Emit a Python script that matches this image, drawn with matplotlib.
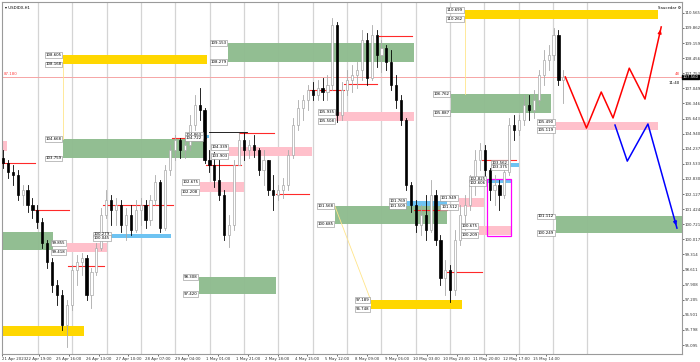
import numpy as np
import matplotlib
matplotlib.use("Agg")
import matplotlib.pyplot as plt
import matplotlib.transforms as mtransforms
from matplotlib.patches import Rectangle

SYMBOL = "\u25be USDIDX,H1"
CORNER = "Saucedar \u2699"

COL_BULL = "#a9a9a9"
COL_BEAR = "#000000"
COL_YELLOW = "#ffd700"
COL_GREEN = "#8fbc8f"
COL_PINK = "#ffc0cb"
COL_BLUE = "#6ec3f2"
COL_RED = "#ff2a2a"
COL_GRID = "#d4d4d4"

# 3h candles
OPEN0 = 103.80
close = [103.57, 103.15, 103.01, 102.08, 102.32, 101.62, 101.38, 100.82, 99.85, 98.96,
         97.89, 97.42, 96.03, 96.96, 98.59, 98.96, 99.15, 97.42, 98.50, 99.61,
         101.15, 101.85, 101.38, 101.62, 100.68, 101.15, 100.45, 101.38, 101.62, 100.92,
         101.85, 102.69, 100.54, 103.25, 104.18, 104.64, 104.18, 104.41, 105.34, 106.27,
         106.04, 103.71, 103.48, 102.78, 102.08, 100.22, 100.68, 103.48, 104.64, 104.18,
         104.41, 104.18, 103.25, 103.71, 102.32, 102.08, 102.32, 102.55, 103.94, 105.34,
         106.13, 106.51, 106.97, 106.74, 107.07, 106.88, 107.21, 110.00, 105.81, 106.97,
         107.44, 107.67, 107.90, 109.30, 107.53, 109.54, 108.60, 108.93, 108.28, 107.21,
         106.51, 105.58, 102.55, 101.62, 100.68, 101.15, 100.45, 102.08, 99.99, 98.22,
         98.59, 97.66, 99.99, 101.15, 101.62, 102.55, 103.71, 104.18, 103.25, 102.32,
         102.55, 102.08, 103.15, 105.34, 105.11, 105.58, 106.27, 106.04, 106.51, 107.67,
         108.37, 108.60, 109.54, 107.44, 107.58]
high = [104.18, 103.71, 103.48, 103.25, 102.55, 102.55, 101.94, 101.62, 101.01, 99.99,
        99.15, 98.12, 97.66, 97.19, 98.82, 99.29, 99.38, 99.29, 98.68, 99.85,
        101.48, 102.32, 102.08, 101.94, 101.85, 101.48, 101.62, 101.85, 101.94, 101.85,
        102.08, 103.01, 102.78, 103.48, 104.41, 104.88, 104.74, 104.64, 105.81, 106.74,
        107.07, 106.13, 104.18, 104.08, 103.71, 102.32, 101.15, 103.71, 104.97, 104.97,
        104.64, 104.88, 104.27, 104.18, 103.71, 103.01, 102.55, 102.87, 104.18, 105.67,
        106.51, 106.74, 107.21, 107.35, 107.44, 107.53, 107.67, 110.33, 110.14, 107.35,
        107.90, 108.14, 108.28, 109.77, 109.63, 110.00, 109.77, 109.30, 109.07, 108.84,
        107.67, 106.74, 105.67, 102.69, 101.85, 101.62, 102.08, 102.78, 102.32, 100.22,
        99.05, 98.82, 100.45, 101.62, 102.08, 103.01, 104.18, 104.50, 104.41, 103.34,
        103.01, 102.78, 103.48, 105.67, 105.81, 105.81, 106.74, 106.74, 106.97, 107.90,
        108.84, 109.07, 109.86, 109.77, 107.90]
low = [103.34, 102.87, 102.55, 101.85, 101.62, 101.29, 101.01, 100.54, 99.61, 98.68,
       97.56, 96.96, 95.79, 95.00, 96.73, 97.89, 98.36, 97.19, 96.82, 98.36,
       99.52, 101.01, 100.68, 100.68, 100.36, 99.99, 100.22, 100.36, 100.68, 100.54,
       100.68, 101.62, 100.36, 100.45, 103.01, 103.71, 103.80, 103.80, 104.18, 105.11,
       105.58, 103.57, 103.15, 102.46, 101.85, 99.99, 99.66, 100.45, 103.48, 103.71,
       103.80, 103.85, 103.01, 102.55, 102.08, 101.38, 101.85, 101.94, 102.32, 103.80,
       105.11, 105.58, 106.04, 106.51, 106.51, 106.51, 106.51, 106.97, 105.48, 105.58,
       106.74, 106.88, 107.07, 107.44, 107.21, 107.44, 108.04, 107.81, 107.90, 106.97,
       106.13, 105.34, 102.32, 101.29, 100.36, 100.22, 99.99, 100.36, 99.75, 97.89,
       97.42, 97.10, 97.42, 99.75, 100.45, 101.38, 102.08, 103.25, 102.87, 101.85,
       101.62, 101.38, 101.94, 103.01, 104.64, 104.88, 105.34, 105.58, 105.67, 106.27,
       107.21, 107.90, 108.37, 107.21, 106.37]

# zones: (x start, x end, top, bottom, top label, bottom label)
yellow_zones = [(12.2, 41.6, 108.60, 108.18, "108.605", "108.168"),
                (93.9, 133.3, 110.70, 110.28, "110.699", "110.262"),
                (74.8, 93.3, 97.19, 96.77, "97.189", "96.748"),
                (-5.0, 16.4, 95.98, 95.52, None, None)]
green_zones = [(45.8, 83.6, 109.16, 108.28, "109.153", "108.279"),
               (91.1, 111.4, 106.79, 105.90, "106.762", "105.887"),
               (12.2, 41.4, 104.69, 103.80, "104.668", "103.759"),
               (-5.0, 10.1, 100.36, 99.52, None, None),
               (39.8, 55.6, 98.26, 97.47, "98.308", "97.420"),
               (67.5, 90.3, 101.57, 100.73, "101.568", "100.685"),
               (112.4, 140.0, 101.10, 100.31, "101.112", "100.249")]
pink_zones = [(-5.0, 0.8, 104.60, 104.13, None, None),
              (40.0, 49.1, 102.69, 102.22, "102.675", "102.208"),
              (46.0, 62.9, 104.32, 103.90, "104.339", "103.903"),
              (67.7, 83.6, 105.95, 105.53, "105.935", "105.508"),
              (92.7, 97.8, 101.94, 101.52, "101.949", "101.512"),
              (96.8, 103.4, 100.64, 100.22, "100.675", "100.209"),
              (112.4, 133.3, 105.48, 105.11, "105.490", "105.119"),
              (13.0, 21.1, 99.85, 99.43, "99.855", "99.418")]
blue_zones = [(22.1, 34.1, 100.26, 100.08, "100.279", "100.045"),
              (40.8, 42.0, 104.88, 104.74, "104.863", "104.722"),
              (82.2, 90.3, 101.80, 101.57, "101.769", "101.509"),
              (98.4, 103.4, 102.83, 102.64, "102.825", "102.606"),
              (103.0, 104.9, 103.57, 103.39, "103.562", "103.375")]

# red horizontal levels: (x start, x end, price)
red_levels = [(-5.0, 6.5, 103.57), (6.5, 13.4, 101.38), (13.2, 20.5, 98.77),
              (20.3, 34.5, 101.62), (34.3, 41.4, 104.74), (41.4, 48.5, 103.48),
              (48.1, 55.2, 104.97), (55.6, 62.3, 102.11), (62.3, 69.4, 106.97),
              (69.4, 76.1, 107.25), (76.5, 83.2, 109.49), (83.6, 90.3, 101.38),
              (90.3, 97.4, 98.50), (97.4, 104.3, 103.71)]

# projected paths
red_path_x = [114.4, 118.7, 121.7, 124.1, 127.4, 130.6, 133.9]
red_path_y = [107.58, 105.20, 106.88, 105.67, 107.99, 106.55, 109.91]
blue_path_x = [124.5, 127.0, 131.2, 137.1]
blue_path_y = [105.34, 103.66, 105.39, 100.54]

magenta_box = (98.4, 103.4, 102.83, 100.17)
current_price = 107.58
current_label = "107.560"

price_labels = ["95.095", "95.798", "96.501", "97.205", "97.908", "98.611", "99.314",
                "100.017", "100.721", "101.424", "102.127", "102.830", "103.533",
                "104.237", "104.940", "105.643", "106.346", "107.049", "107.753",
                "108.456", "109.159", "109.862", "110.565"]
date_labels = ["22 Apr 19:00", "25 Apr 16:00", "26 Apr 13:00", "27 Apr 10:00",
               "28 Apr 07:00", "29 Apr 04:00", "1 May 01:00", "1 May 21:00",
               "2 May 18:00", "4 May 15:00", "5 May 12:00", "8 May 09:00",
               "9 May 06:00", "10 May 03:00", "10 May 23:00", "11 May 20:00",
               "12 May 17:00", "15 May 14:00"]
first_date = "21 Apr 2023"

FS_AX = 2.8

fig = plt.figure(figsize=(7.0, 3.62), dpi=100)
ax = fig.add_axes([2 / 700, 8 / 362, 680 / 700, 352 / 362])
ax.set_xlim(-0.2, 138.13)
ax.set_ylim(94.676, 111.072)
for s in ax.spines.values():
    s.set_color("#9a9a9a")
    s.set_linewidth(0.8)

# vertical grid
for k in range(17):
    ax.axvline(7.16 + 6.98 * k, color=COL_GRID, lw=0.9, zorder=0)

# current price line
ax.axhline(current_price, color="#f6a5a5", lw=0.7, zorder=1)


def draw_zones(zones, color, alpha=1.0):
    for x0, x1, top, bot, lt, lb in zones:
        ax.add_patch(Rectangle((x0, bot), x1 - x0, top - bot, facecolor=color,
                               edgecolor="none", alpha=alpha, zorder=1))
        for lab, yy in ((lt, top), (lb, bot)):
            if lab:
                ax.text(x0 - 0.3, yy, lab, fontsize=FS_AX, ha="right", va="center",
                        zorder=6, bbox=dict(boxstyle="square,pad=0.15", fc="white",
                                            ec="#8c8c8c", lw=0.4))


draw_zones(yellow_zones, COL_YELLOW)
draw_zones(green_zones, COL_GREEN, 0.97)
draw_zones(pink_zones, COL_PINK)
draw_zones(blue_zones, COL_BLUE)

# faint connector lines
ax.plot([12.2, 12.2], [108.18, 104.69], color="#ffe58a", lw=0.6, zorder=1)
ax.plot([93.9, 93.9], [110.28, 106.79], color="#ffe58a", lw=0.6, zorder=1)
ax.plot([67.5, 74.8], [101.57, 97.19], color="#ffe58a", lw=0.6, zorder=1)

for x0, x1, yy in red_levels:
    ax.plot([x0, x1], [yy, yy], color=COL_RED, lw=0.8, zorder=3)
ax.plot([42.0, 49.7], [105.02, 105.02], color="black", lw=0.6, zorder=3)

x0, x1, top, bot = magenta_box
ax.add_patch(Rectangle((x0, bot), x1 - x0, top - bot, facecolor="none",
                       edgecolor="#ff00ff", lw=0.9, zorder=4))

# candles
opens = [OPEN0] + close[:-1]
for i, (o, h, l, c) in enumerate(zip(opens, high, low, close)):
    col = COL_BULL if c >= o else COL_BEAR
    ax.plot([i, i], [l, h], color=col, lw=0.6, zorder=5)
    ax.add_patch(Rectangle((i - 0.22, min(o, c)), 0.44, max(abs(c - o), 0.03),
                           facecolor="white" if c >= o else "black",
                           edgecolor=col, lw=0.5, zorder=5))

# projections
ax.plot(red_path_x, red_path_y, color="#ff0000", lw=1.1, zorder=7)
ax.annotate("", xy=(red_path_x[-1], red_path_y[-1]),
            xytext=(red_path_x[-2] + 0.9 * (red_path_x[-1] - red_path_x[-2]),
                    red_path_y[-2] + 0.9 * (red_path_y[-1] - red_path_y[-2])),
            arrowprops=dict(arrowstyle="-|>", color="#ff0000", lw=1.0,
                            mutation_scale=5), zorder=7)
ax.plot(blue_path_x, blue_path_y, color="#0000ff", lw=1.1, zorder=7)
ax.annotate("", xy=(blue_path_x[-1], blue_path_y[-1]),
            xytext=(blue_path_x[-2] + 0.9 * (blue_path_x[-1] - blue_path_x[-2]),
                    blue_path_y[-2] + 0.9 * (blue_path_y[-1] - blue_path_y[-2])),
            arrowprops=dict(arrowstyle="-|>", color="#0000ff", lw=1.0,
                            mutation_scale=5), zorder=7)

# price axis on the right
ax.yaxis.tick_right()
ax.set_yticks([float(v) for v in price_labels])
ax.set_yticklabels(price_labels, fontsize=FS_AX)
ax.tick_params(axis="y", length=1.2, width=0.5, pad=0.6, colors="#333333")

# time axis
xt = [-0.2] + [7.30 + 6.07 * k for k in range(len(date_labels))]
ax.set_xticks(xt)
ax.set_xticklabels([first_date] + date_labels, fontsize=FS_AX)
ax.tick_params(axis="x", length=1.5, width=0.5, pad=0.6, colors="#333333")
ax.get_xticklabels()[0].set_horizontalalignment("left")

# texts
tr = mtransforms.blended_transform_factory(ax.transAxes, ax.transData)
ax.text(1.001, current_price, current_label, transform=tr, fontsize=FS_AX,
        color="white", va="center", ha="left", zorder=9, clip_on=False,
        bbox=dict(boxstyle="square,pad=0.1", fc="black", ec="black"))
ax.text(0.997, current_price - 0.3, "11:40", transform=tr, fontsize=FS_AX,
        ha="right", va="center", zorder=9)
ax.text(0.997, current_price + 0.12, "48", transform=tr, fontsize=FS_AX,
        color="#ff4040", ha="right", va="center", zorder=9)
ax.text(0.002, current_price + 0.12, "87.180", transform=tr, fontsize=FS_AX,
        color="#ff4040", ha="left", va="center", zorder=9)
ax.text(0.004, 0.99, SYMBOL, transform=ax.transAxes, fontsize=FS_AX, ha="left", va="top")
ax.text(0.998, 0.99, CORNER, transform=ax.transAxes, fontsize=FS_AX, ha="right", va="top")

fig.savefig("out.png", dpi=100, facecolor="white")
